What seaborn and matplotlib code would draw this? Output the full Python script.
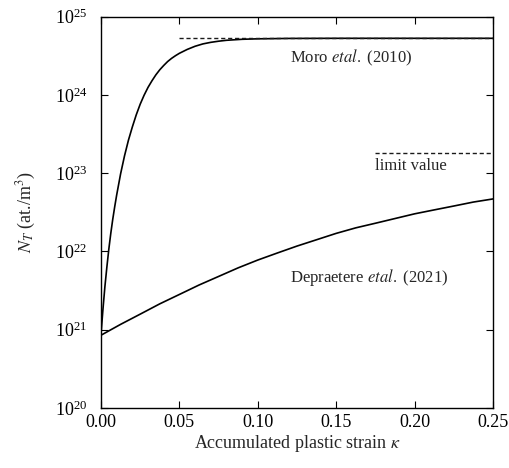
import numpy as np
import pandas as pd
import matplotlib
matplotlib.use('Agg')
import matplotlib.pyplot as plt
import seaborn as sns

# data
kappa_moro = [0, 0.00125, 0.0025, 0.00375, 0.005, 0.00625, 0.0075, 0.00875, 0.01, 0.0125,
              0.015, 0.0175, 0.02, 0.0225, 0.025, 0.0275, 0.03, 0.0325, 0.035, 0.0375,
              0.04, 0.0425, 0.045, 0.0475, 0.05, 0.055, 0.06, 0.065, 0.07, 0.075,
              0.08, 0.09, 0.10, 0.12, 0.15, 0.20, 0.25]
nt_moro = [8.71e20, 1.82e21, 3.55e21, 6.31e21, 1.07e22, 1.70e22, 2.57e22, 3.72e22, 5.25e22, 9.77e22,
           1.66e23, 2.63e23, 3.89e23, 5.56e23, 7.59e23, 9.89e23, 1.245e24, 1.51e24, 1.80e24, 2.09e24,
           2.37e24, 2.66e24, 2.92e24, 3.16e24, 3.39e24, 3.80e24, 4.17e24, 4.47e24, 4.68e24, 4.84e24,
           4.97e24, 5.12e24, 5.19e24, 5.25e24, 5.27e24, 5.27e24, 5.27e24]

kappa_dep = [0, 0.0125, 0.025, 0.0375, 0.05, 0.0625, 0.075, 0.0875, 0.1, 0.1125,
             0.125, 0.1375, 0.15, 0.1625, 0.175, 0.1875, 0.2, 0.2125, 0.225, 0.2375, 0.25]
nt_dep = [8.5e20, 1.17e21, 1.58e21, 2.14e21, 2.82e21, 3.72e21, 4.79e21, 6.17e21, 7.76e21, 9.55e21,
          1.17e22, 1.41e22, 1.70e22, 2.0e22, 2.29e22, 2.63e22, 3.02e22, 3.39e22, 3.80e22, 4.27e22, 4.68e22]

moro_limit_x = [0.05, 0.25]
moro_limit = 5.3e24
limit_x = [0.175, 0.25]
limit_val = 1.83e23

sns.set_theme(style='ticks')
plt.rcParams['font.family'] = ['Liberation Serif', 'DejaVu Serif']
plt.rcParams['mathtext.fontset'] = 'stix'
plt.rcParams['font.size'] = 13

fig = plt.figure(figsize=(5.09, 4.68), dpi=100)
ax = fig.add_axes([0.1984, 0.1282, 0.7702, 0.8365])

df_m = pd.DataFrame({'k': kappa_moro, 'N': nt_moro})
df_d = pd.DataFrame({'k': kappa_dep, 'N': nt_dep})
sns.lineplot(data=df_m, x='k', y='N', color='black', lw=1.2, ax=ax)
sns.lineplot(data=df_d, x='k', y='N', color='black', lw=1.2, ax=ax)
ax.plot(moro_limit_x, [moro_limit, moro_limit], 'k--', lw=1.0, dashes=(3, 2))
ax.plot(limit_x, [limit_val, limit_val], 'k--', lw=1.0, dashes=(3, 2))

ax.set_yscale('log')
ax.set_xlim(0, 0.25)
ax.set_ylim(1e20, 1e25)
ax.set_xticks([0, 0.05, 0.10, 0.15, 0.20, 0.25])
ax.set_xticklabels(['0.00', '0.05', '0.10', '0.15', '0.20', '0.25'])
ax.set_yticks([1e20, 1e21, 1e22, 1e23, 1e24, 1e25])
ax.yaxis.set_minor_locator(matplotlib.ticker.NullLocator())
ax.tick_params(which='both', direction='in', top=True, right=True, length=5, width=0.8,
               labelsize=13, colors='black')
ax.tick_params(axis='y', pad=10)
ax.tick_params(axis='x', pad=4)
for s in ax.spines.values():
    s.set_linewidth(1.0)
    s.set_color('black')

ax.set_xlabel(r'Accumulated plastic strain $\kappa$', fontsize=13, labelpad=2)
ax.set_ylabel(r'$N_T$ (at./m$^3$)', fontsize=13, labelpad=12)

ax.text(0.1205, 3.0e24, r'Moro $\it{etal.}$ (2010)', fontsize=12, va='center', ha='left')
ax.text(0.175, 1.25e23, 'limit value', fontsize=12, va='center', ha='left')
ax.text(0.1205, 4.7e21, r'Depraetere $\it{etal.}$ (2021)', fontsize=12, va='center', ha='left')

fig.savefig('out.png', dpi=100)
